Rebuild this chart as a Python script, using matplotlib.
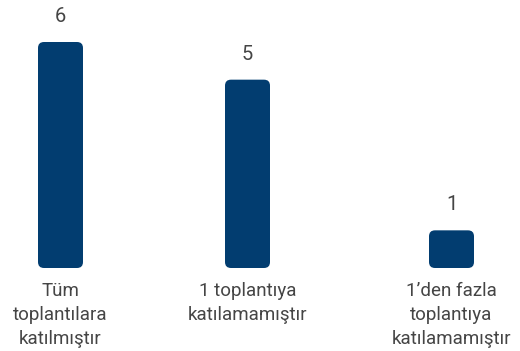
import matplotlib
matplotlib.use("Agg")
import matplotlib.pyplot as plt
from matplotlib.patches import FancyBboxPatch

categories = ["Tüm\ntoplantılara\nkatılmıştır",
              "1 toplantıya\nkatılamamıştır",
              "1’den fazla\ntoplantıya\nkatılamamıştır"]
values = [6, 5, 1]

bar_color = "#023d70"
text_color = "#454545"
font = "Roboto"

W, H, DPI = 520, 351, 100
fig = plt.figure(figsize=(W / DPI, H / DPI), dpi=DPI)

# axes: x in pixel units across the full width, y in value units
base_px, top_px = 268, 42          # pixel rows (from top) of value 0 and value 6
ymax = 6
ax = fig.add_axes([0, (H - base_px) / H, 1, (base_px - top_px) / H])
ax.set_xlim(0, W)
ax.set_ylim(0, ymax)
ax.axis("off")

slot_centers = [60.5, 247.5, 451.5]
bar_w = 45
radius_px = 6
px_per_unit = (base_px - top_px) / ymax

bars = ax.bar(slot_centers, values, width=bar_w, color="none")
for b, v in zip(bars, values):
    x0, y0 = b.get_x(), b.get_y()
    w, h = b.get_width(), b.get_height()
    patch = FancyBboxPatch((x0, y0), w, h,
                           boxstyle=f"round,pad=0,rounding_size={radius_px}",
                           mutation_aspect=1 / px_per_unit,
                           facecolor=bar_color, edgecolor="none")
    ax.add_patch(patch)
    ax.annotate(str(v), (x0 + w / 2, h), xytext=(0, 20 * 72 / DPI),
                textcoords="offset points", ha="center", va="baseline",
                fontsize=14.5, color=text_color, family=font)

# category labels: first baseline ~29px below the bars, then ~23px per line
for xc, lab in zip(slot_centers, categories):
    ax.annotate(lab, (xc, 0), xytext=(0, -14 * 72 / DPI), textcoords="offset points",
                ha="center", va="top", fontsize=13.5, color=text_color,
                family=font, linespacing=1.42, annotation_clip=False)

fig.savefig("out.png", dpi=DPI)
